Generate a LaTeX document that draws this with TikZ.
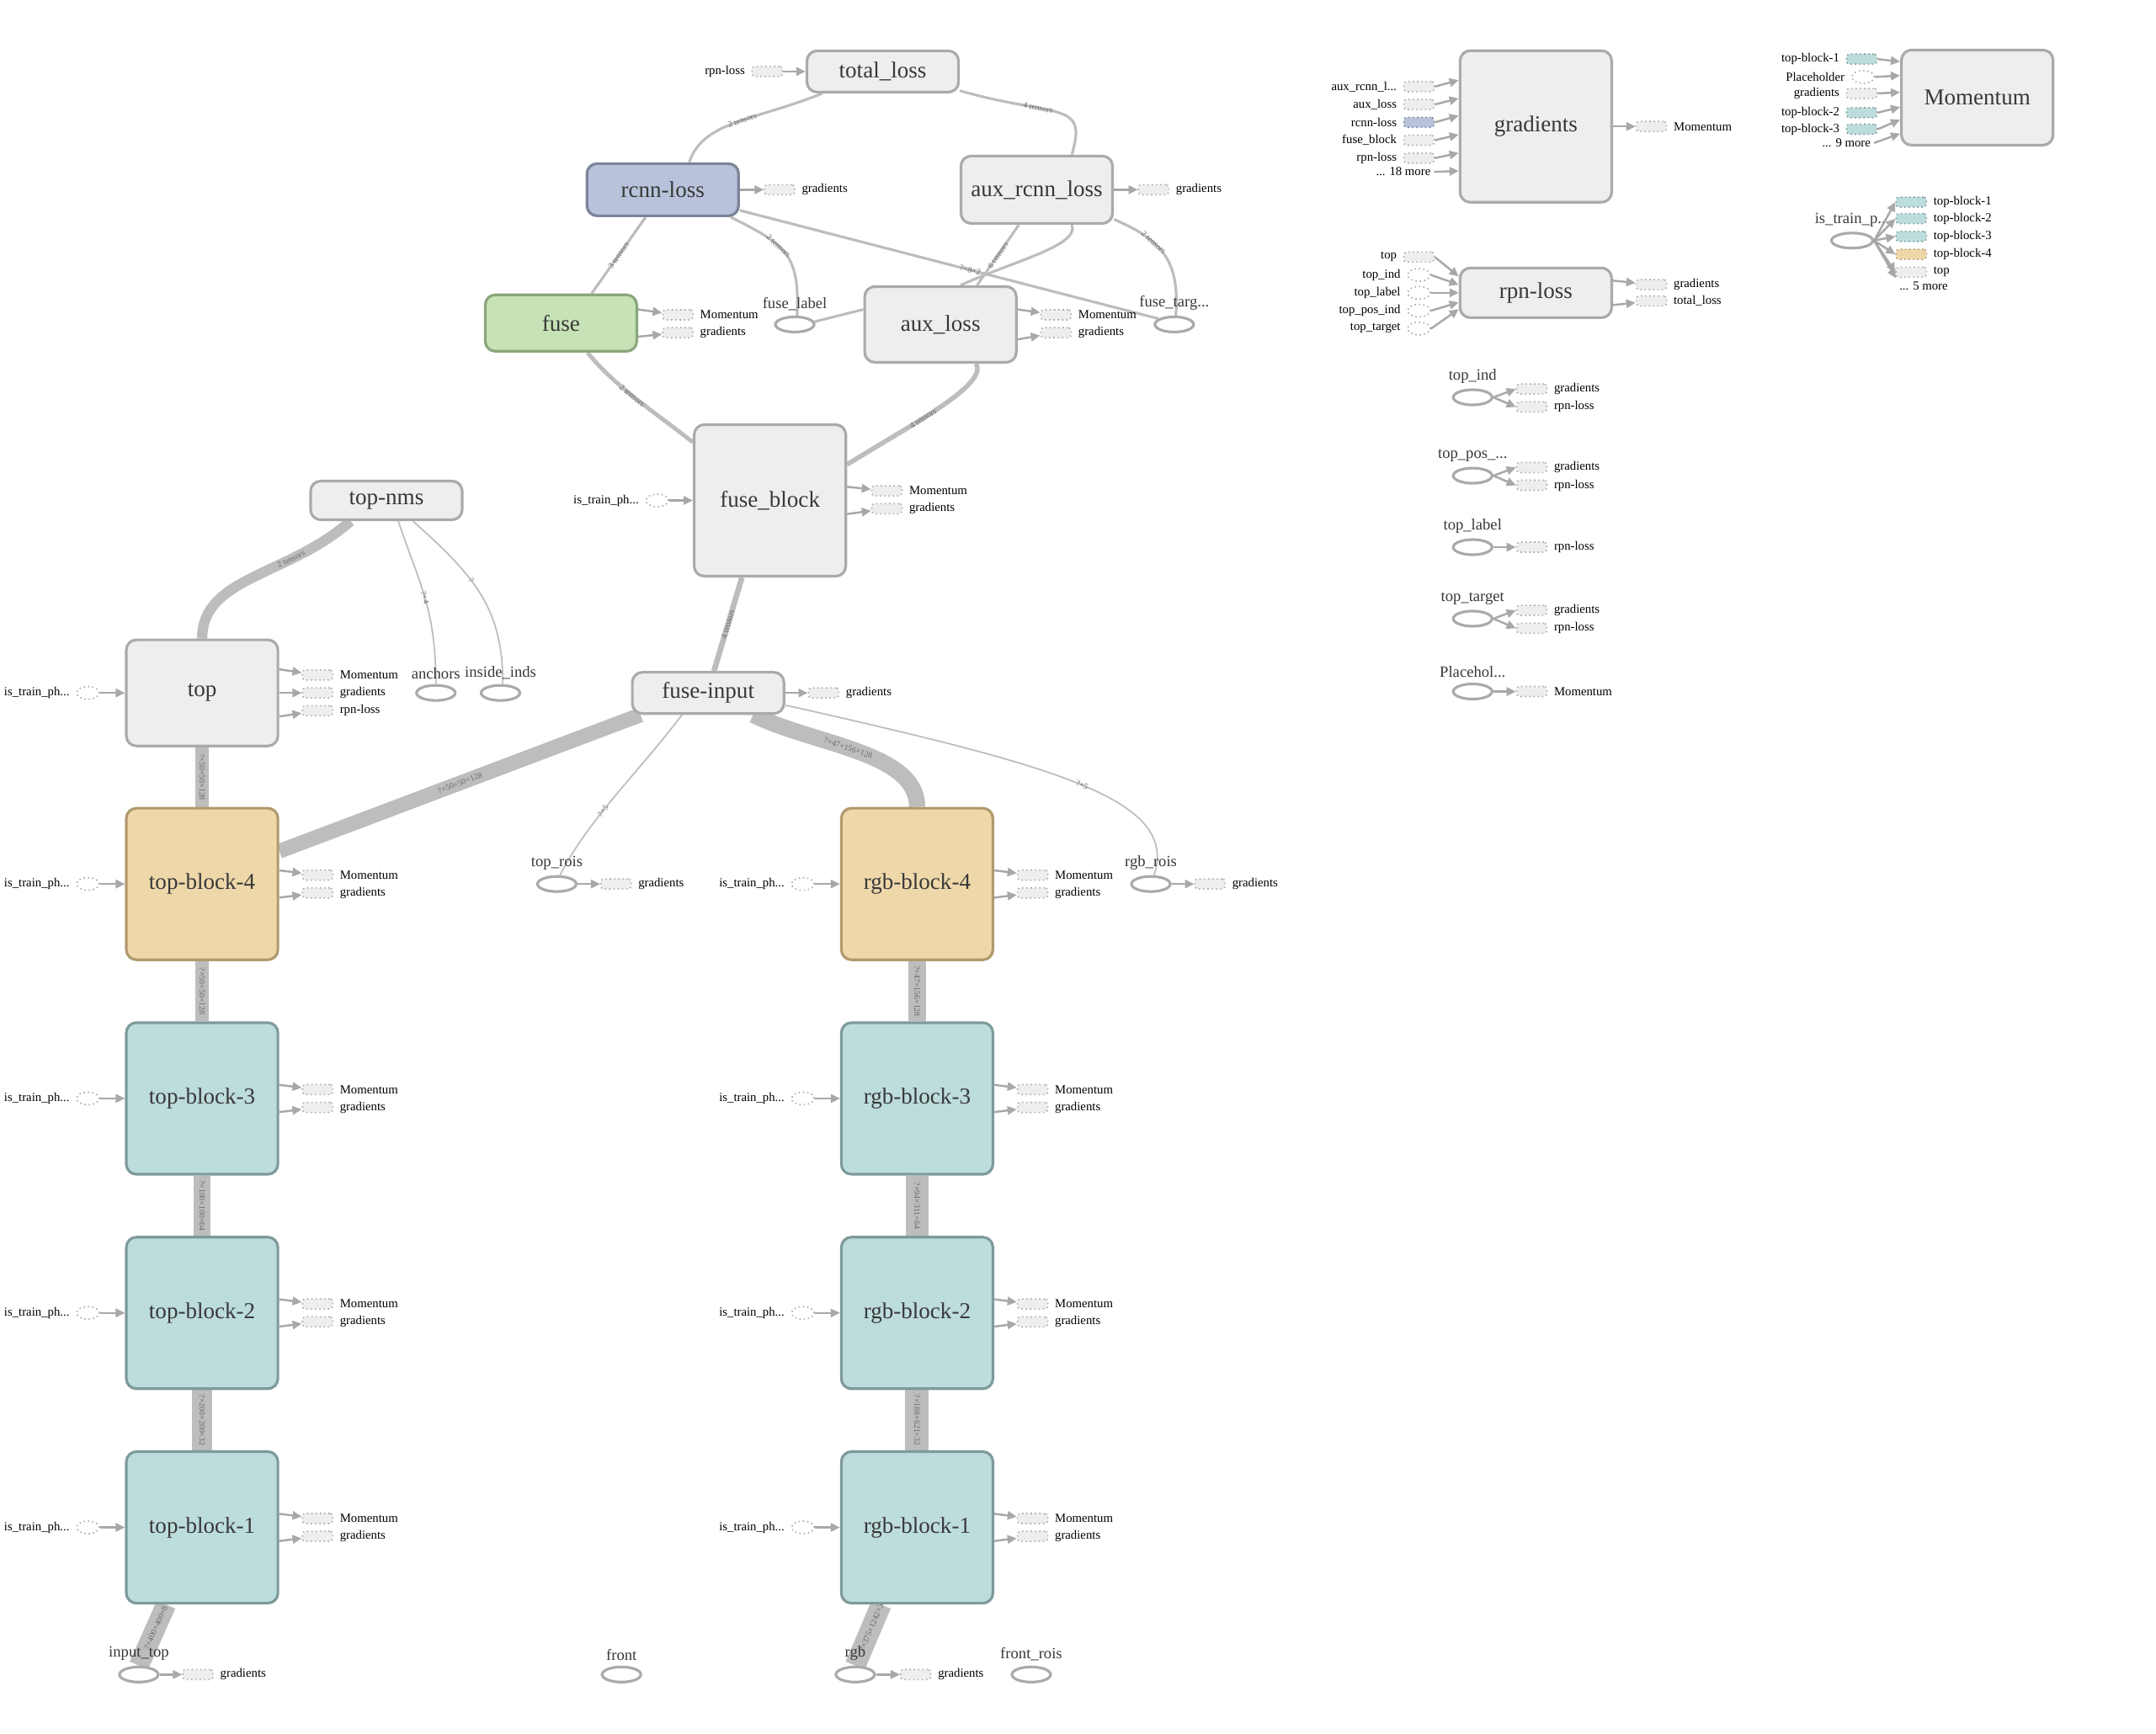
\documentclass[tikz,border=0pt]{standalone}
\usepackage{fontspec}
\setmainfont{Liberation Serif}
\usetikzlibrary{positioning, arrows.meta, shapes.geometric}

\definecolor{opfill}{HTML}{EEEEEE}
\definecolor{opdraw}{HTML}{AAAAAA}
\definecolor{optext}{HTML}{383838}
\definecolor{rcnnfill}{HTML}{B8C3DB}
\definecolor{rcnndraw}{HTML}{7B8499}
\definecolor{fusefill}{HTML}{C6E2B6}
\definecolor{fusedraw}{HTML}{8BA67C}
\definecolor{tanfill}{HTML}{EED8AA}
\definecolor{tandraw}{HTML}{B09A6E}
\definecolor{tealfill}{HTML}{BDDCDC}
\definecolor{tealdraw}{HTML}{7E9A9A}
\definecolor{edgegray}{HTML}{BDBDBD}
\definecolor{arrowgray}{HTML}{A8A8A8}
\definecolor{auxdraw}{HTML}{AAAAAA}
\definecolor{edgetext}{HTML}{6A6A6A}

\newcommand{\opfont}{\fontsize{7.7pt}{8pt}\selectfont}
\newcommand{\cfont}{\fontsize{5.3pt}{6pt}\selectfont}
\newcommand{\auxfont}{\fontsize{4.2pt}{5pt}\selectfont}
\newcommand{\edgefont}{\fontsize{2.8pt}{3pt}\selectfont}

\pgfdeclarelayer{edges}
\pgfsetlayers{edges,main}

\tikzset{
  op/.style={rectangle, rounded corners=0.12cm, draw=opdraw, fill=opfill, line width=0.9pt,
    text=optext, font=\opfont, minimum width=1.8cm, inner sep=0pt},
  rcnnop/.style={op, draw=rcnndraw, fill=rcnnfill},
  fuseop/.style={op, draw=fusedraw, fill=fusefill},
  tanop/.style={op, draw=tandraw, fill=tanfill},
  tealop/.style={op, draw=tealdraw, fill=tealfill},
  const/.style={ellipse, draw=opdraw, fill=white, line width=0.9pt, minimum width=0.46cm,
    minimum height=0.18cm, inner sep=0pt},
  aux/.style={rectangle, rounded corners=1pt, draw=auxdraw, densely dotted, fill=opfill,
    line width=0.45pt, minimum width=0.36cm, minimum height=0.12cm, inner sep=0pt},
  auxin/.style={ellipse, draw=auxdraw, densely dotted, fill=white, line width=0.45pt,
    minimum width=0.27cm, minimum height=0.15cm, inner sep=0pt},
  tealaux/.style={fill=tealfill, draw=tealdraw},
  tanaux/.style={fill=tanfill, draw=tandraw},
  rcnnaux/.style={fill=rcnnfill, draw=rcnndraw},
  flow/.style={draw=edgegray, line width=#1},
  flow/.default=0.9pt,
  ctl/.style={draw=arrowgray, line width=0.7pt, -{Triangle[length=0.11cm, width=0.1cm]}},
  elabel/.style={font=\edgefont, text=edgetext, sloped, inner sep=0.5pt},
  rtext/.style={label={[font=\auxfont, inner sep=0pt, label distance=2pt]right:#1}},
  ltext/.style={label={[font=\auxfont, inner sep=0pt, label distance=2pt]left:#1}},
  cname/.style={label={[font=\cfont, text=optext, inner sep=0pt, label distance=1.5pt]above:#1}},
}

\begin{document}
\begin{tikzpicture}[x=0.016333cm, y=-0.016333cm]
  \useasboundingbox (0,0) rectangle (1568,1261);

  % main ops
  \node[op, minimum height=0.49cm] (tloss) at (642,52) {total\_loss};
  \node[rcnnop, minimum height=0.62cm] (rcnn) at (482,138) {rcnn-loss};
  \node[op, minimum height=0.80cm] (auxrcnn) at (754,138) {aux\_rcnn\_loss};
  \node[fuseop, minimum height=0.67cm] (fuse) at (408,235) {fuse};
  \node[op, minimum height=0.90cm] (auxloss) at (684,236) {aux\_loss};
  \node[op, minimum height=1.80cm] (fblock) at (560,364) {fuse\_block};
  \node[op, minimum height=0.46cm] (tnms) at (281,364) {top-nms};
  \node[op, minimum height=1.26cm] (top) at (147,504) {top};
  \node[op, minimum height=0.49cm] (finput) at (515,504) {fuse-input};
  \node[op, minimum height=1.80cm] (grads) at (1117,92) {gradients};
  \node[op, minimum height=1.13cm] (mom) at (1438,71) {Momentum};
  \node[op, minimum height=0.59cm] (rpnloss) at (1117,213) {rpn-loss};

  % constants and placeholders
  \node[const, cname=fuse\_label] (flabel) at (578,236) {};
  \node[const, cname=fuse\_targ...] (ftarg) at (854,236) {};
  \node[const, cname=anchors] (anchors) at (317,504) {};
  \node[const, cname=inside\_inds] (iinds) at (364,504) {};
  \node[const, cname=top\_rois] (trois) at (405,643) {};
  \node[const, cname=rgb\_rois] (rrois) at (837,643) {};
  \node[const, cname=input\_top] (itop) at (101,1218) {};
  \node[const, cname=front] (front) at (452,1218) {};
  \node[const, cname=rgb] (rgb) at (622,1218) {};
  \node[const, cname=front\_rois] (frois) at (750,1218) {};
  \node[const, cname=top\_ind] (tind) at (1071,289) {};
  \node[const, cname=top\_pos\_...] (tpos) at (1071,346) {};
  \node[const, cname=top\_label] (tlab) at (1071,398) {};
  \node[const, cname=top\_target] (ttarg) at (1071,450) {};
  \node[const, cname=Placehol...] (phold) at (1071,503) {};
  \node[const, minimum width=0.49cm, cname=is\_train\_p...] (istrain) at (1347,175) {};

  % top and rgb block stacks
  \foreach \k/\yy/\kind in {4/643/tanop, 3/799/tealop, 2/955/tealop, 1/1111/tealop} {
    \node[\kind, minimum height=1.8cm] (tb\k) at (147,\yy) {top-block-\k};
    \node[auxin, ltext=is\_train\_ph...] (tbin\k) at (64,\yy) {};
    \node[aux, rtext=Momentum] (tbm\k) at (231,\yy-6.5) {};
    \node[aux, rtext=gradients] (tbg\k) at (231,\yy+6.5) {};
    \draw[ctl] (tbin\k) -- (tb\k);
    \draw[ctl] (tb\k.10) -- (tbm\k);
    \draw[ctl] (tb\k.-10) -- (tbg\k);
    \node[\kind, minimum height=1.8cm] (rb\k) at (667,\yy) {rgb-block-\k};
    \node[auxin, ltext=is\_train\_ph...] (rbin\k) at (584,\yy) {};
    \node[aux, rtext=Momentum] (rbm\k) at (751,\yy-6.5) {};
    \node[aux, rtext=gradients] (rbg\k) at (751,\yy+6.5) {};
    \draw[ctl] (rbin\k) -- (rb\k);
    \draw[ctl] (rb\k.10) -- (rbm\k);
    \draw[ctl] (rb\k.-10) -- (rbg\k);
  }

  % auxiliary inputs and outputs
  \node[aux, ltext=rpn-loss] (tlin) at (558,52) {};
  \draw[ctl] (tlin) -- (tloss);
  \node[aux, rtext=gradients] (rcnnout) at (567,138) {};
  \draw[ctl] (rcnn) -- (rcnnout);
  \node[aux, rtext=gradients] (auxrcnnout) at (839,138) {};
  \draw[ctl] (auxrcnn) -- (auxrcnnout);
  \node[aux, rtext=Momentum] (fusem) at (493,229) {};
  \node[aux, rtext=gradients] (fuseg) at (493,242) {};
  \draw[ctl] (fuse.10) -- (fusem);
  \draw[ctl] (fuse.-10) -- (fuseg);
  \node[aux, rtext=Momentum] (auxlm) at (768,229) {};
  \node[aux, rtext=gradients] (auxlg) at (768,242) {};
  \draw[ctl] (auxloss.11) -- (auxlm);
  \draw[ctl] (auxloss.-11) -- (auxlg);
  \node[auxin, ltext=is\_train\_ph...] (fbin) at (478,364) {};
  \draw[ctl] (fbin) -- (fblock);
  \node[aux, rtext=Momentum] (fbm) at (645,357) {};
  \node[aux, rtext=gradients] (fbg) at (645,370) {};
  \draw[ctl] (fblock.10) -- (fbm);
  \draw[ctl] (fblock.-10) -- (fbg);
  \node[auxin, ltext=is\_train\_ph...] (topin) at (64,504) {};
  \draw[ctl] (topin) -- (top);
  \node[aux, rtext=Momentum] (topm) at (231,491) {};
  \node[aux, rtext=gradients] (topg) at (231,504) {};
  \node[aux, rtext=rpn-loss] (topr) at (231,517) {};
  \draw[ctl] (top.17) -- (topm);
  \draw[ctl] (top) -- (topg);
  \draw[ctl] (top.-17) -- (topr);
  \node[aux, rtext=gradients] (finputg) at (599,504) {};
  \draw[ctl] (finput) -- (finputg);
  \node[aux, rtext=gradients] (troisg) at (448,643) {};
  \draw[ctl] (trois) -- (troisg);
  \node[aux, rtext=gradients] (rroisg) at (880,643) {};
  \draw[ctl] (rrois) -- (rroisg);
  \node[aux, rtext=gradients] (itopg) at (144,1218) {};
  \draw[ctl] (itop) -- (itopg);
  \node[aux, rtext=gradients] (rgbg) at (666,1218) {};
  \draw[ctl] (rgb) -- (rgbg);

  % gradients group
  \node[aux, ltext=aux\_rcnn\_l...] (gi1) at (1032,63) {};
  \node[aux, ltext=aux\_loss] (gi2) at (1032,76) {};
  \node[aux, rcnnaux, ltext=rcnn-loss] (gi3) at (1032,89) {};
  \node[aux, ltext=fuse\_block] (gi4) at (1032,102) {};
  \node[aux, ltext=rpn-loss] (gi5) at (1032,115) {};
  \node[font=\auxfont, inner sep=1pt, anchor=east] (gmore) at (1043,125) {... 18 more};
  \draw[ctl] (gi1.east) -- (grads.149);
  \draw[ctl] (gi2.east) -- (grads.160);
  \draw[ctl] (gi3.east) -- (grads.172);
  \draw[ctl] (gi4.east) -- (grads.186);
  \draw[ctl] (gi5.east) -- (grads.199);
  \draw[ctl] (gmore.east) -- (grads.210);
  \node[aux, rtext=Momentum] (gradsout) at (1201,92) {};
  \draw[ctl] (grads) -- (gradsout);

  % Momentum group
  \node[aux, tealaux, ltext=top-block-1] (mi1) at (1354,43) {};
  \node[auxin, ltext=Placeholder] (mi2) at (1355,56) {};
  \node[aux, ltext=gradients] (mi3) at (1354,68) {};
  \node[aux, tealaux, ltext=top-block-2] (mi4) at (1354,82) {};
  \node[aux, tealaux, ltext=top-block-3] (mi5) at (1354,94) {};
  \node[font=\auxfont, inner sep=1pt, anchor=east] (mmore) at (1363,104) {... 9 more};
  \draw[ctl] (mi1.east) -- (mom.155);
  \draw[ctl] (mi2.east) -- (mom.164);
  \draw[ctl] (mi3.east) -- (mom.176);
  \draw[ctl] (mi4.east) -- (mom.187);
  \draw[ctl] (mi5.east) -- (mom.196);
  \draw[ctl] (mmore.east) -- (mom.205);

  % rpn-loss group
  \node[aux, ltext=top] (ri1) at (1032,187) {};
  \node[auxin, ltext=top\_ind] (ri2) at (1032,200) {};
  \node[auxin, ltext=top\_label] (ri3) at (1032,213) {};
  \node[auxin, ltext=top\_pos\_ind] (ri4) at (1032,226) {};
  \node[auxin, ltext=top\_target] (ri5) at (1032,239) {};
  \draw[ctl] (ri1.east) -- (rpnloss.168);
  \draw[ctl] (ri2.east) -- (rpnloss.174);
  \draw[ctl] (ri3.east) -- (rpnloss.180);
  \draw[ctl] (ri4.east) -- (rpnloss.187);
  \draw[ctl] (ri5.east) -- (rpnloss.192);
  \node[aux, rtext=gradients] (rpng) at (1201,207) {};
  \node[aux, rtext=total\_loss] (rpnt) at (1201,219) {};
  \draw[ctl] (rpnloss.9) -- (rpng);
  \draw[ctl] (rpnloss.-9) -- (rpnt);

  % small input graphs
  \node[aux, rtext=gradients] (tindg) at (1114,283) {};
  \node[aux, rtext=rpn-loss] (tindr) at (1114,296) {};
  \draw[ctl] (tind.east) -- (tindg.west);
  \draw[ctl] (tind.east) -- (tindr.west);
  \node[aux, rtext=gradients] (tposg) at (1114,340) {};
  \node[aux, rtext=rpn-loss] (tposr) at (1114,353) {};
  \draw[ctl] (tpos.east) -- (tposg.west);
  \draw[ctl] (tpos.east) -- (tposr.west);
  \node[aux, rtext=rpn-loss] (tlabr) at (1114,398) {};
  \draw[ctl] (tlab) -- (tlabr);
  \node[aux, rtext=gradients] (ttargg) at (1114,444) {};
  \node[aux, rtext=rpn-loss] (ttargr) at (1114,457) {};
  \draw[ctl] (ttarg.east) -- (ttargg.west);
  \draw[ctl] (ttarg.east) -- (ttargr.west);
  \node[aux, rtext=Momentum] (pholdm) at (1114,503) {};
  \draw[ctl] (phold) -- (pholdm);

  \node[aux, tealaux, rtext=top-block-1] (io1) at (1390,147) {};
  \node[aux, tealaux, rtext=top-block-2] (io2) at (1390,159) {};
  \node[aux, tealaux, rtext=top-block-3] (io3) at (1390,172) {};
  \node[aux, tanaux, rtext=top-block-4] (io4) at (1390,185) {};
  \node[aux, rtext=top] (io5) at (1390,198) {};
  \node[font=\auxfont, inner sep=1pt] (imore) at (1399,208) {... 5 more};
  \draw[ctl] (istrain.east) -- (io1.west);
  \draw[ctl] (istrain.east) -- (io2.west);
  \draw[ctl] (istrain.east) -- (io3.west);
  \draw[ctl] (istrain.east) -- (io4.west);
  \draw[ctl] (istrain.east) -- (io5.west);
  \draw[ctl] (istrain.east) -- (imore.north west);

  % dataflow edges behind the ops
  \begin{pgfonlayer}{edges}
    \draw[flow] (tloss.-160) .. controls +(-50,20) and +(10,-30) .. node[elabel, pos=0.45] {2 tensors} (rcnn.46);
    \draw[flow] (tloss.-14) .. controls +(70,20) and +(12,-40) .. node[elabel, pos=0.35] {4 tensors} (auxrcnn.45);
    \draw[flow] (rcnn.-122) -- node[elabel] {3 tensors} (fuse.44);
    \draw[flow] (rcnn.-22) .. controls +(40,20) and +(2,-45) .. node[elabel, pos=0.4] {2 tensors} (flabel.75);
    \draw[flow] (rcnn.-15) -- node[elabel, pos=0.55] {?×8×2} (ftarg.160);
    \draw[flow] (auxrcnn.-117) -- node[elabel] {6 tensors} (auxloss.47);
    \draw[flow] (auxrcnn.-45) .. controls +(6,15) and +(40,-18) .. (auxloss.63);
    \draw[flow] (flabel.8) -- (auxloss.169);
    \draw[flow] (auxrcnn.-21) .. controls +(35,15) and +(3,-40) .. node[elabel, pos=0.35] {2 tensors} (ftarg.80);
    \draw[flow=1.4pt] (fuse.-48) .. controls +(20,25) and +(-25,-20) .. node[elabel, pos=0.45] {2 tensors} (fblock.143);
    \draw[flow=1.6pt] (auxloss.-48) .. controls +(10,15) and +(45,-28) .. node[elabel, pos=0.6] {4 tensors} (fblock.25);
    \draw[flow=1.9pt] (fblock.-110) -- node[elabel] {4 tensors} (finput.75);
    \draw[flow=5pt] (finput.-162) -- node[elabel] {?×50×50×128} (tb4.23);
    \draw[flow=0.5pt] (finput.-140) .. controls +(-30,40) and +(20,-40) .. node[elabel, pos=0.6] {?×5} (trois.70);
    \draw[flow=5.5pt] (finput.-26) .. controls +(45,22) and +(0,-40) .. node[elabel, pos=0.45] {?×47×156×128} (rb4.north);
    \draw[flow=0.5pt] (finput.-9) .. controls +(200,45) and +(18,-55) .. node[elabel, pos=0.5] {?×5} (rrois.70);
    \draw[flow=3.5pt] (tnms.-150) .. controls +(-45,40) and +(0,-45) .. node[elabel, pos=0.3] {2 tensors} (top.north);
    \draw[flow=0.5pt] (tnms.-60) .. controls +(15,45) and +(0,-55) .. node[elabel, pos=0.5] {?×4} (anchors.north);
    \draw[flow=0.5pt] (tnms.-38) .. controls +(45,40) and +(0,-55) .. node[elabel, pos=0.4] {?} (iinds.75);
    \draw[flow=4.7pt] (top) -- node[elabel] {?×50×50×128} (tb4);
    \draw[flow=4.7pt] (tb4) -- node[elabel] {?×50×50×128} (tb3);
    \draw[flow=5.7pt] (tb3) -- node[elabel] {?×100×100×64} (tb2);
    \draw[flow=6.6pt] (tb2) -- node[elabel] {?×200×200×32} (tb1);
    \draw[flow=6.8pt] (tb1.-115) -- node[elabel, pos=0.38] {?×400×400×8} (itop.north);
    \draw[flow=6.2pt] (rb4) -- node[elabel] {?×47×156×128} (rb3);
    \draw[flow=7.6pt] (rb3) -- node[elabel] {?×94×311×64} (rb2);
    \draw[flow=8pt] (rb2) -- node[elabel] {?×188×621×32} (rb1);
    \draw[flow=7pt] (rb1.-115) -- node[elabel, pos=0.38] {?×375×1242×3} (rgb.north);
  \end{pgfonlayer}
\end{tikzpicture}
\end{document}
